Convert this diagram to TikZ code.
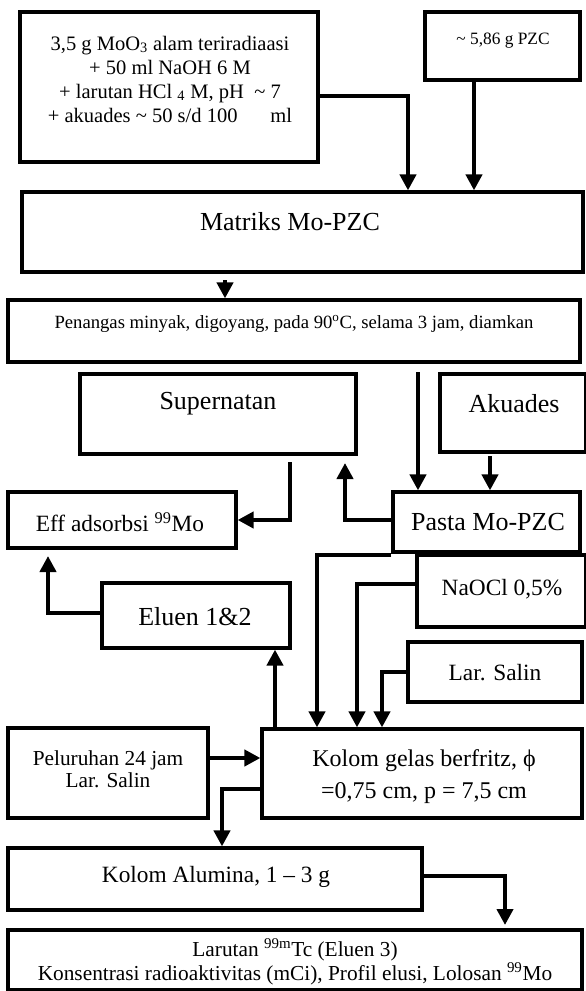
\documentclass[tikz,border=0pt]{standalone}
\usepackage{fontspec}
\setmainfont{Liberation Serif}
\usetikzlibrary{arrows.meta,fit}
\newcommand{\tld}{\textasciitilde}
\begin{document}
\begin{tikzpicture}[x=0.75pt,y=-0.75pt,
  box/.style={draw,line width=2.4pt,inner sep=0pt,rectangle},
  arr/.style={line width=3.4pt,-{Triangle[width=12pt,length=12pt]}},
  tx/.style={inner sep=0pt,align=center},
  fA/.style={font=\fontsize{15.4}{18}\selectfont},
  fB/.style={font=\fontsize{19.5}{22}\selectfont},
  fC/.style={font=\fontsize{13}{15}\selectfont},
  fD/.style={font=\fontsize{14}{16}\selectfont},
  fE/.style={font=\fontsize{17.5}{20}\selectfont},
  fF/.style={font=\fontsize{18}{24}\selectfont},
  fG/.style={font=\fontsize{16}{16.5}\selectfont},
  fH/.style={font=\fontsize{16}{16}\selectfont},
]
\useasboundingbox (0,0) rectangle (585,991);

% boxes
\path (20,12) coordinate (a1) (318,162) coordinate (a2);
\node[box,fit=(a1)(a2)] (A) {};
\path (425,12) coordinate (b1) (580,80) coordinate (b2);
\node[box,fit=(b1)(b2)] (PZC) {};
\path (22,192) coordinate (m1) (583,272) coordinate (m2);
\node[box,fit=(m1)(m2)] (M) {};
\path (8,300) coordinate (p1) (580,362) coordinate (p2);
\node[box,fit=(p1)(p2)] (P) {};
\path (80,374) coordinate (s1) (356,454) coordinate (s2);
\node[box,fit=(s1)(s2)] (S) {};
\path (440,374) coordinate (k1) (586,452) coordinate (k2);
\node[box,fit=(k1)(k2)] (AK) {};
\path (393,492) coordinate (q1) (580,552) coordinate (q2);
\node[box,fit=(q1)(q2)] (PA) {};
\path (8,492) coordinate (e1) (236,548) coordinate (e2);
\node[box,fit=(e1)(e2)] (EF) {};
\path (417,555) coordinate (n1) (586,627) coordinate (n2);
\node[box,fit=(n1)(n2)] (NA) {};
\path (408,642) coordinate (l1) (582,702) coordinate (l2);
\node[box,fit=(l1)(l2)] (LS) {};
\path (102,583) coordinate (u1) (290,648) coordinate (u2);
\node[box,fit=(u1)(u2)] (EL) {};
\path (262,729) coordinate (c1) (582,818) coordinate (c2);
\node[box,fit=(c1)(c2)] (KG) {};
\path (8,728) coordinate (r1) (208,818) coordinate (r2);
\node[box,fit=(r1)(r2)] (PL) {};
\path (8,848) coordinate (h1) (422,910) coordinate (h2);
\node[box,fit=(h1)(h2)] (AL) {};
\path (8,930) coordinate (z1) (582,990) coordinate (z2);
\node[box,fit=(z1)(z2)] (LT) {};

% texts
\node[tx,fA] (tA) at (170,79) {3,5 g MoO\textsubscript{3} alam teriradiaasi\\+ 50 ml NaOH 6 M\\+ larutan HCl \textsubscript{4} M, pH~ \tld{} 7\\+ akuades \tld{} 50 s/d 100\hspace{1.6em}ml};
\node[tx,fC] (tPZC) at (503,41) {\tld{} 5,86 g PZC};
\node[tx,fB] (tM) at (290,222) {Matriks Mo-PZC};
\node[tx,fD] (tP) at (294,324) {Penangas minyak, digoyang, pada 90\textsuperscript{o}C, selama 3 jam, diamkan};
\node[tx,fB] (tS) at (218,404) {Supernatan};
\node[tx,fB] (tAK) at (514,404) {Akuades};
\node[tx,fB] (tPA) at (488,522) {Pasta Mo-PZC};
\node[tx,fE] (tEF) at (120,522) {Eff adsorbsi \textsuperscript{99}Mo};
\node[tx,fE] (tNA) at (502,589) {NaOCl 0,5\%};
\node[tx,fE] (tLS) at (495,673) {Lar. Salin};
\node[tx,fB] (tEL) at (195,617) {Eluen 1\&2};
\node[tx,fF] (tKG) at (424,777) {Kolom gelas berfritz, ϕ\\=0,75 cm, p = 7,5 cm};
\node[tx,fG] (tPL) at (108,769) {Peluruhan 24 jam\\Lar. Salin};
\node[tx,fE] (tAL) at (216,877) {Kolom Alumina, 1 -- 3 g};
\node[tx,fH] (tLT) at (295,962) {Larutan \textsuperscript{99m}Tc (Eluen 3)\\Konsentrasi radioaktivitas (mCi), Profil elusi, Lolosan \textsuperscript{99}Mo};

% free-end coordinates
\coordinate (j1) at (408,96);
\coordinate (j2) at (474,80);
\coordinate (j3) at (225,280);
\coordinate (j4) at (418,372);
\coordinate (j5) at (490,456);
\coordinate (j6) at (345,463);
\coordinate (j7) at (290,462);
\coordinate (j8) at (48,556);
\coordinate (j9) at (317,555);
\coordinate (j10) at (357,584);
\coordinate (j11) at (382,672);
\coordinate (j12) at (275,729);
\coordinate (j13) at (222,789);
\coordinate (j14) at (505,876);
\coordinate (j15) at (505,925);
\coordinate (j16) at (0,758);
\coordinate (j17) at (0,520);
\coordinate (j18) at (0,613);

% connectors
\draw[arr] (A.east |- j1) -- (j1) -- (j1 |- M.north);
\draw[arr] (PZC.south -| j2) -- (j2 |- M.north);
\draw[arr] (j3) -- (j3 |- P.north);
\draw[arr] (j4) -- (j4 |- PA.north);
\draw[arr] (j5) -- (j5 |- PA.north);
\draw[arr] (PA.west |- j17) -| (j6);
\draw[arr] (j7) |- (EF.east |- j17);
\draw[arr] (EL.west |- j18) -| (j8);
\draw[arr] (PA.west |- j9) -- (j9) -- (j9 |- KG.north);
\draw[arr] (NA.west |- j10) -- (j10) -- (j10 |- KG.north);
\draw[arr] (LS.west |- j11) -- (j11) -- (j11 |- KG.north);
\draw[arr] (KG.north -| j12) -- (j12 |- EL.south);
\draw[arr] (PL.east |- j16) -- (KG.west |- j16);
\draw[arr] (KG.west |- j13) -- (j13) -- (j13 |- AL.north);
\draw[arr] (AL.east |- j14) -- (j14) -- (j15);
\end{tikzpicture}
\end{document}
